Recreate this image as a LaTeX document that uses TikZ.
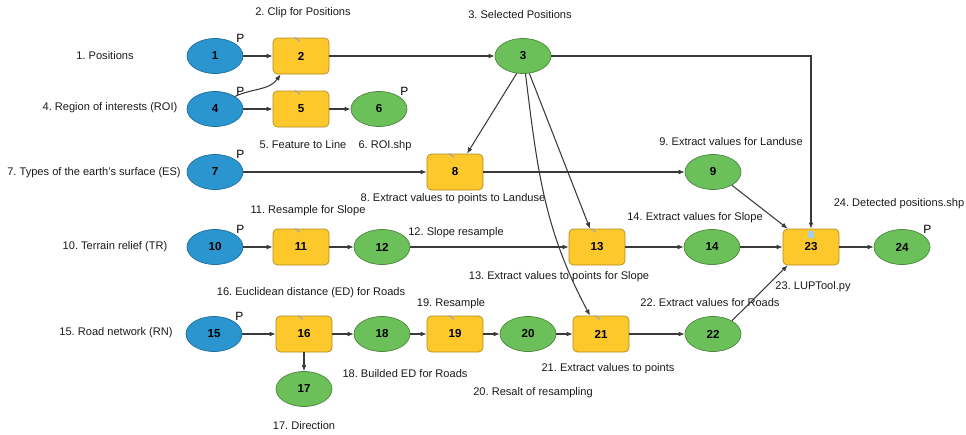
\documentclass[tikz,border=0pt]{standalone}
\usepackage{fontspec}
\setmainfont{Liberation Sans}
\usepackage{tikz}
\usetikzlibrary{arrows.meta,positioning,shapes.geometric}
\definecolor{InBlue}{HTML}{2B95D0}
\definecolor{DataGreen}{HTML}{6CC05A}
\definecolor{ToolYellow}{HTML}{FCC82B}
\definecolor{FlowGrey}{HTML}{3A3A3A}
\definecolor{CapText}{HTML}{1A1A1A}
\frenchspacing

\begin{document}
\begin{tikzpicture}[
    inputnode/.style={
      ellipse,
      draw=InBlue!75!black,
      fill=InBlue,
      minimum width=1.12cm,
      minimum height=0.7cm,
      inner sep=0pt,
      font=\fontsize{6.6}{7}\selectfont\bfseries
    },
    datanode/.style={
      inputnode,
      draw=DataGreen!70!black,
      fill=DataGreen
    },
    toolbox/.style={
      draw=ToolYellow!70!black,
      fill=ToolYellow,
      minimum width=1.12cm,
      minimum height=0.72cm,
      rounded corners=2.5pt,
      inner sep=0pt,
      font=\fontsize{6.6}{7}\selectfont\bfseries
    },
    param/.style={
      label={[pmark]north east:P}
    },
    pmark/.style={
      font=\fontsize{6.8}{7}\selectfont,
      inner sep=0.5pt
    },
    caption/.style={
      font=\fontsize{6.3}{7.5}\selectfont,
      color=CapText
    },
    flow/.style={
      -{Latex[length=3.5pt,width=2.8pt]},
      line width=0.6pt,
      color=FlowGrey
    },
    toolmark/.style={
      line width=0.7pt,
      color=black!35
    }
  ]
  \useasboundingbox (0,0) rectangle (19.32,8.68);

  % inputs (left column)
  \node[inputnode,param] (n1)  at (4.30,7.56) {1};
  \node[inputnode,param] (n4)  at (4.30,6.50) {4};
  \node[inputnode,param] (n7)  at (4.30,5.24) {7};
  \node[inputnode,param] (n10) at (4.30,3.74) {10};
  \node[inputnode,param] (n15) at (4.28,2.00) {15};

  % tools
  \node[toolbox] (n2)  at (6.02,7.56) {2};
  \node[toolbox] (n5)  at (6.02,6.50) {5};
  \node[toolbox] (n8)  at (9.10,5.24) {8};
  \node[toolbox] (n11) at (6.02,3.74) {11};
  \node[toolbox] (n13) at (11.94,3.74) {13};
  \node[toolbox] (n16) at (6.08,2.00) {16};
  \node[toolbox] (n19) at (9.10,2.00) {19};
  \node[toolbox] (n21) at (12.02,2.00) {21};
  \node[toolbox] (n23) at (16.22,3.74) {23};

  % derived data
  \node[datanode] (n3)  at (10.46,7.56) {3};
  \node[datanode,param] (n6) at (7.58,6.50) {6};
  \node[datanode] (n9)  at (14.26,5.24) {9};
  \node[datanode] (n12) at (7.64,3.74) {12};
  \node[datanode] (n14) at (14.24,3.74) {14};
  \node[datanode,param] (n24) at (18.04,3.74) {24};
  \node[datanode] (n17) at (6.08,0.90) {17};
  \node[datanode] (n18) at (7.64,2.00) {18};
  \node[datanode] (n20) at (10.56,2.00) {20};
  \node[datanode] (n22) at (14.26,2.00) {22};

  % tool icons
  \foreach \b in {n2,n5,n8,n11,n13,n16,n19,n21}
    \draw[toolmark] ([xshift=-0.5pt,yshift=-2pt]\b.north) -- ++(-3pt,2pt);
  \fill[InBlue!45] ([xshift=-1.5pt,yshift=-5.5pt]n23.north) rectangle ++(3pt,4pt);

  % captions
  \node[caption] (l1)  at (2.10,7.56)  {1. Positions};
  \node[caption] (l2)  at (6.06,8.42)  {2. Clip for Positions};
  \node[caption] (l3)  at (10.40,8.38) {3. Selected Positions};
  \node[caption] (l4)  at (2.20,6.52)  {4. Region of interests (ROI)};
  \node[caption] (l5)  at (6.06,5.78)  {5. Feature to Line};
  \node[caption] (l6)  at (7.70,5.76)  {6. ROI.shp};
  \node[caption] (l7)  at (1.88,5.22)  {7. Types of the earth's surface (ES)};
  \node[caption] (l8)  at (9.06,4.70)  {8. Extract values to points to Landuse};
  \node[caption] (l9)  at (14.62,5.84) {9. Extract values for Landuse};
  \node[caption] (l10) at (2.30,3.74)  {10. Terrain relief (TR)};
  \node[caption] (l11) at (6.16,4.46)  {11. Resample for Slope};
  \node[caption] (l12) at (9.12,4.02)  {12. Slope resample};
  \node[caption] (l13) at (11.18,3.14) {13. Extract values to points for Slope};
  \node[caption] (l14) at (13.90,4.32) {14. Extract values for Slope};
  \node[caption] (l15) at (2.32,2.02)  {15. Road network (RN)};
  \node[caption] (l16) at (6.22,2.82)  {16. Euclidean distance (ED) for Roads};
  \node[caption] (l17) at (6.08,0.16)  {17. Direction};
  \node[caption] (l18) at (8.10,1.20)  {18. Builded ED for Roads};
  \node[caption] (l19) at (9.02,2.60)  {19. Resample};
  \node[caption] (l20) at (10.66,0.82) {20. Resalt of resampling};
  \node[caption] (l21) at (12.16,1.30) {21. Extract values to points};
  \node[caption] (l22) at (14.20,2.62) {22. Extract values for Roads};
  \node[caption] (l23) at (16.26,2.94) {23. LUPTool.py};
  \node[caption] (l24) at (17.98,4.60) {24. Detected positions.shp};

  % flows
  \draw[flow] (n1) -- (n2);
  \draw[flow] (n4.north east) to[out=25,in=-125] ([xshift=0.16cm]n2.south west);
  \draw[flow] (n4) -- (n5);
  \draw[flow] (n5) -- (n6);
  \draw[flow] (n2) -- (n3);
  \draw[flow] (n3.east) -| (n23.north);
  \draw[flow] (n3.-110) -- ([xshift=0.24cm]n8.north);
  \draw[flow] (n3.-70) -- ([xshift=-0.14cm]n13.north);
  \draw[flow] (n3.-82) to[out=-83,in=118] ([xshift=-0.22cm]n21.north);
  \draw[flow] (n7) -- (n8);
  \draw[flow] (n8) -- (n9);
  \draw[flow] (n9.-35) -- ([xshift=0.1cm]n23.north west);
  \draw[flow] (n10) -- (n11);
  \draw[flow] (n11) -- (n12);
  \draw[flow] (n12) -- (n13);
  \draw[flow] (n13) -- (n14);
  \draw[flow] (n14) -- (n23);
  \draw[flow] (n23) -- (n24);
  \draw[flow] (n15) -- (n16);
  \draw[flow] (n16) -- (n17);
  \draw[flow] (n16) -- (n18);
  \draw[flow] (n18) -- (n19);
  \draw[flow] (n19) -- (n20);
  \draw[flow] (n20) -- (n21);
  \draw[flow] (n21) -- (n22);
  \draw[flow] (n22.35) -- ([xshift=0.1cm]n23.south west);

\end{tikzpicture}
\end{document}
